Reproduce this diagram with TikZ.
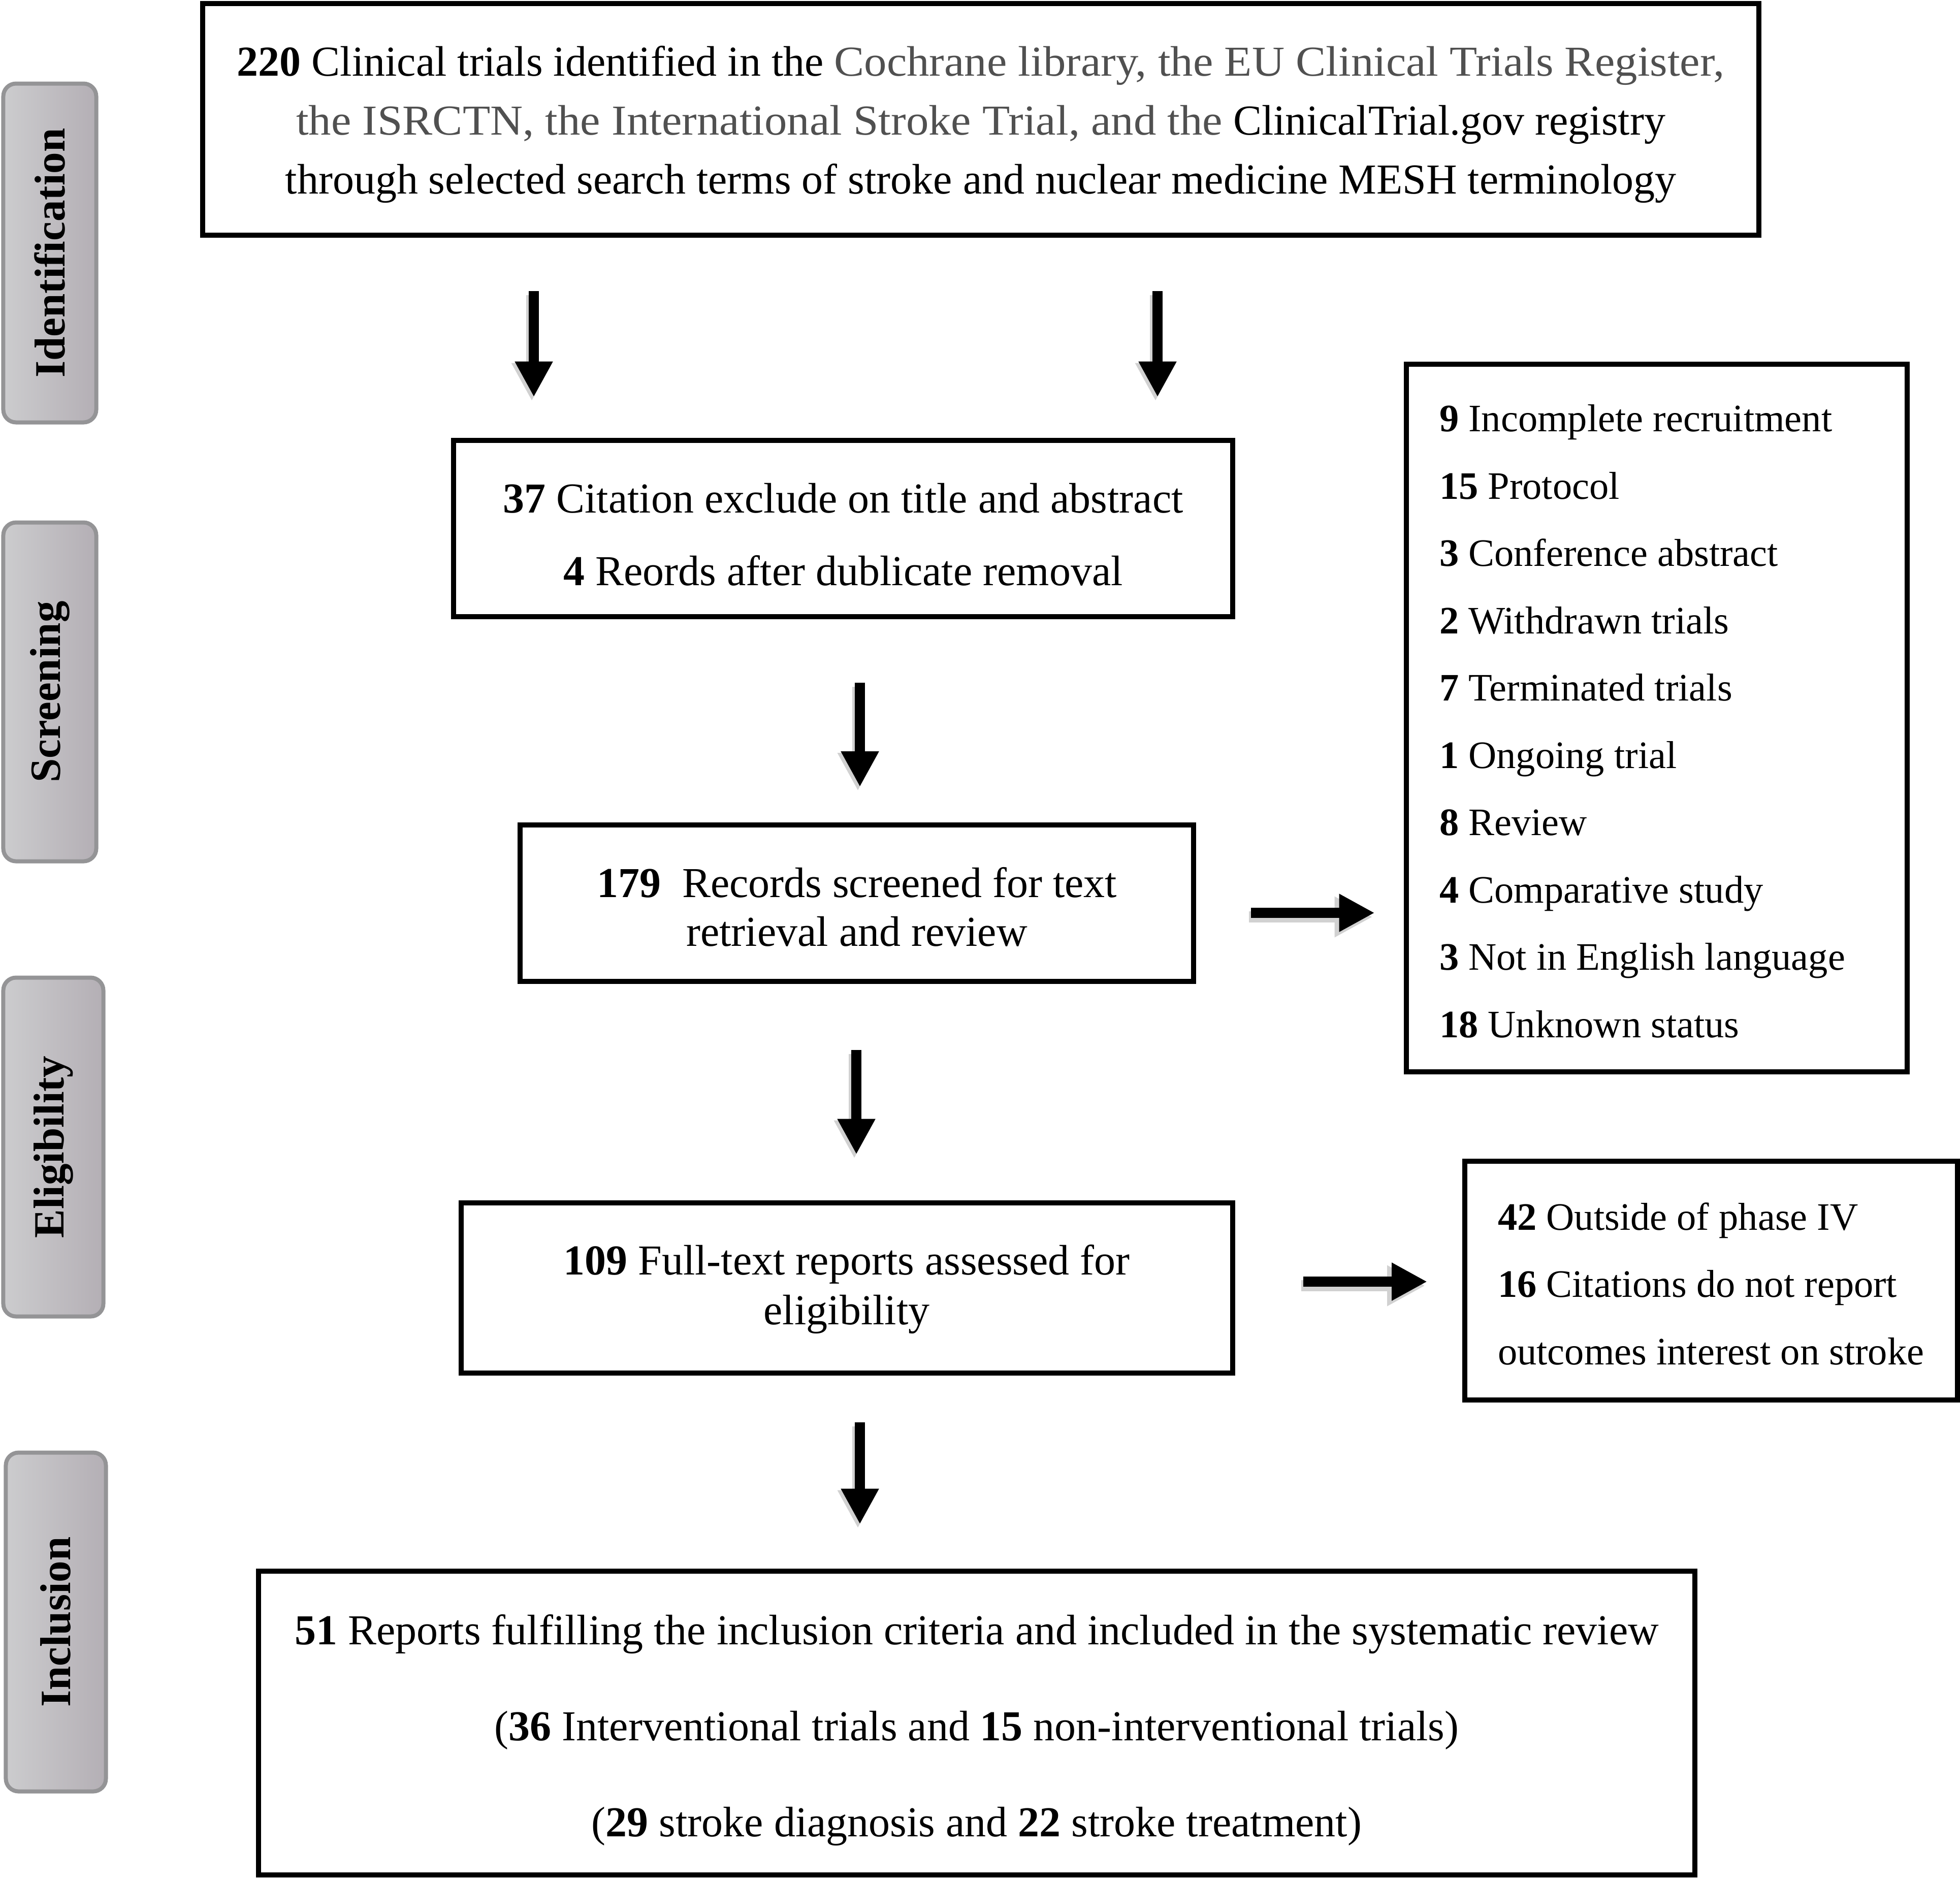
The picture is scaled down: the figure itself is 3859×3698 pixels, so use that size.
\documentclass[tikz,border=0pt]{standalone}
\usepackage{fontspec}
\usepackage{graphicx}
\setmainfont{Liberation Serif}
\usetikzlibrary{arrows.meta}
\definecolor{sideL}{RGB}{204,204,206}
\definecolor{sideM}{RGB}{229,228,230}
\definecolor{sideR}{RGB}{180,175,181}
\definecolor{sideB}{RGB}{148,148,150}
\definecolor{dimtext}{RGB}{80,80,80}
\newcommand{\flowarr}[3]{%
  \draw[arrsh,#1] #2 -- #3;
  \draw[arr,#1] #2 -- #3;}
\newcommand{\lowline}[2]{\raisebox{-#1}[\height][\depth]{#2}}
\newcommand{\dimwords}[1]{\textcolor{dimtext}{\scalebox{1.057}[1]{#1}}}
\begin{document}
\begin{tikzpicture}[x=0.2pt,y=-0.2pt,
  box/.style={draw=black, line width=2pt, inner sep=0pt, align=center},
  sidebox/.style={draw=sideB, line width=1.6pt, rounded corners=5pt,
    left color=sideL, middle color=sideM, right color=sideR,
    minimum height=133.4pt, inner sep=0pt},
  sidetext/.style={rotate=90, inner sep=0pt, font=\fontsize{17}{20}\selectfont\bfseries},
  listtext/.style={anchor=west, inner sep=0pt, align=left, font=\fontsize{15.3}{26.5}\selectfont},
  arr/.style={line width=4pt, -{Triangle[length=14pt,width=14pt]}},
  arrsh/.style={line width=4.4pt, draw=black!18, -{Triangle[length=15pt,width=15pt]},
    transform canvas={shift={(-0.8pt,-1.6pt)}}}
]
\useasboundingbox (0,0) rectangle (3859,3698);

% phase labels
\node[sidebox, minimum width=36.6pt] (sid) at (98,498) {};
\node[sidetext] (sidt) at (sid.center) {Identification};
\node[sidebox, minimum width=36.6pt] (sscr) at (98,1362) {};
\node[sidetext] (sscrt) at (sscr.center) {Screening};
\node[sidebox, minimum width=39.4pt] (selig) at (105,2258) {};
\node[sidetext] (seligt) at (selig.center) {Eligibility};
\node[sidebox, minimum width=39.4pt] (sincl) at (110,3193) {};
\node[sidetext] (sinclt) at (sincl.center) {Inclusion};

% main boxes
\node[box, minimum width=612.8pt, minimum height=91.2pt,
  font=\fontsize{16.8}{23.2}\selectfont] (top) at (1931,235)
  {\lowline{2pt}{\textbf{220} Clinical trials identified in the \dimwords{Cochrane library, the EU Clinical Trials Register,}}\\
   \lowline{2pt}{\dimwords{the ISRCTN, the International Stroke Trial, and the} ClinicalTrial.gov registry}\\
   \lowline{2pt}{through selected search terms of stroke and nuclear medicine MESH terminology}};

\node[box, minimum width=306.8pt, minimum height=69.4pt,
  font=\fontsize{16.8}{28.6}\selectfont] (b2) at (1660,1040)
  {\lowline{2.5pt}{\textbf{37} Citation exclude on title and abstract}\\
   \lowline{2.5pt}{\textbf{4} Reords after dublicate removal}};

\node[box, minimum width=265.2pt, minimum height=61.6pt,
  font=\fontsize{16.8}{19.2}\selectfont] (b3) at (1687,1778)
  {\lowline{1.5pt}{\textbf{179}\ \ Records screened for text}\\
   \lowline{1.5pt}{retrieval and review}};

\node[box, minimum width=303.8pt, minimum height=67pt,
  font=\fontsize{16.8}{19.6}\selectfont] (b4) at (1667,2535)
  {\lowline{0.5pt}{\textbf{109} Full-text reports assessed for}\\
   \lowline{0.5pt}{eligibility}};

\node[box, minimum width=565.6pt, minimum height=119.6pt,
  font=\fontsize{16.8}{37.8}\selectfont] (b5) at (1923,3392)
  {\lowline{2.7pt}{\textbf{51} Reports fulfilling the inclusion criteria and included in the systematic review}\\
   \lowline{2.7pt}{(\textbf{36} Interventional trials and \textbf{15} non-interventional trials)}\\
   \lowline{2.7pt}{(\textbf{29} stroke diagnosis and \textbf{22} stroke treatment)}};

% exclusion boxes
\node[box, minimum width=197.2pt, minimum height=278.6pt] (r1) at (3262,1413) {};
\node[listtext] (r1t) at (2833,1420)
  {\textbf{9} Incomplete recruitment\\
   \textbf{15} Protocol\\
   \textbf{3} Conference abstract\\
   \textbf{2} Withdrawn trials\\
   \textbf{7} Terminated trials\\
   \textbf{1} Ongoing trial\\
   \textbf{8} Review\\
   \textbf{4} Comparative study\\
   \textbf{3} Not in English language\\
   \textbf{18} Unknown status};

\node[box, minimum width=194pt, minimum height=94pt] (r2) at (3369,2521) {};
\node[listtext] (r2t) at (2948,2527)
  {\textbf{42} Outside of phase IV\\
   \textbf{16} Citations do not report\\
   outcomes interest on stroke};

% arrow guides
\coordinate (ax1) at (1051,0);
\coordinate (ax2) at (2279,0);
\coordinate (ax3) at (1693,0);
\coordinate (ax4) at (1686,0);
\coordinate (ay1) at (0,1797);
\coordinate (ay2) at (0,2523);

\flowarr{shorten <=21pt, shorten >=16pt}{(top.south -| ax1)}{(b2.north -| ax1)}
\flowarr{shorten <=21pt, shorten >=16pt}{(top.south -| ax2)}{(b2.north -| ax2)}
\flowarr{shorten <=25pt, shorten >=14pt}{(b2.south -| ax3)}{(b3.north -| ax3)}
\flowarr{shorten <=26pt, shorten >=18pt}{(b3.south -| ax4)}{(b4.north -| ax4)}
\flowarr{shorten <=18.5pt, shorten >=17.5pt}{(b4.south -| ax3)}{(b5.north -| ax3)}
\flowarr{shorten <=21.5pt, shorten >=11.5pt}{(b3.east |- ay1)}{(r1.west |- ay1)}
\flowarr{shorten <=26.8pt, shorten >=13.8pt}{(b4.east |- ay2)}{(r2.west |- ay2)}
\end{tikzpicture}
\end{document}
